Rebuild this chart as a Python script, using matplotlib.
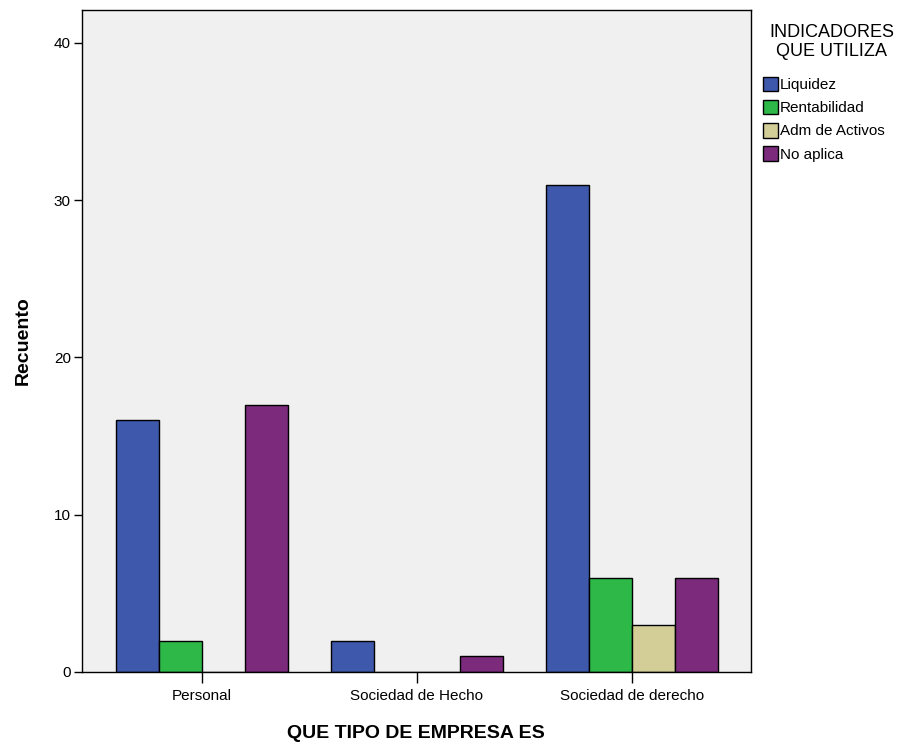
import numpy as np
import matplotlib
matplotlib.use("Agg")
import matplotlib.pyplot as plt

# Data
categorias = ["Personal", "Sociedad de Hecho", "Sociedad de derecho"]
series = ["Liquidez", "Rentabilidad", "Adm de Activos", "No aplica"]
liquidez = [16, 2, 31]
rentabilidad = [2, 0, 6]
adm_activos = [0, 0, 3]
no_aplica = [17, 1, 6]
colores = ["#3E58AC", "#2EB848", "#D3CE97", "#7B2A7C"]

valores = [liquidez, rentabilidad, adm_activos, no_aplica]

plt.rcParams['font.family'] = ['Liberation Sans', 'DejaVu Sans']

fig = plt.figure(figsize=(9.11, 7.44), dpi=100)
ax = fig.add_axes([0.090, 0.0968, 0.734, 0.8898])
ax.set_facecolor("#F0F0F0")

x = np.arange(len(categorias))
w = 0.2
handles = []
for i, (nombre, vals, c) in enumerate(zip(series, valores, colores)):
    b = ax.bar(x + (i - 1.5) * w, vals, width=w, color=c,
               edgecolor="black", linewidth=1.0, label=nombre)
    handles.append(b)

ax.set_xlim(-0.558, 2.553)
ax.set_ylim(0, 42.1)
ax.set_yticks([0, 10, 20, 30, 40])
ax.set_xticks(x)
ax.set_xticklabels(categorias)
ax.tick_params(axis="both", direction="out", length=6, width=1, labelsize=11,
               colors="black", pad=2)
ax.tick_params(axis="x", length=8, pad=4)
for s in ax.spines.values():
    s.set_linewidth(1.0)
    s.set_color("black")

ax.set_ylabel("Recuento", fontsize=14, fontweight="bold", labelpad=16)
ax.set_xlabel("QUE TIPO DE EMPRESA ES", fontsize=14, fontweight="bold", labelpad=16)

# legend title placed separately, entries via legend
fig.text(0.913, 0.968, "INDICADORES\nQUE UTILIZA", ha="center", va="top",
         fontsize=13, linespacing=1.15)
leg = fig.legend(handles=handles, labels=series, loc="upper left",
                 bbox_to_anchor=(0.837, 0.897), frameon=False,
                 fontsize=11, handlelength=1.0, handleheight=1.1,
                 handletextpad=0.15, labelspacing=0.5, borderaxespad=0.0,
                 borderpad=0.0)

fig.savefig("out.png", dpi=100)
